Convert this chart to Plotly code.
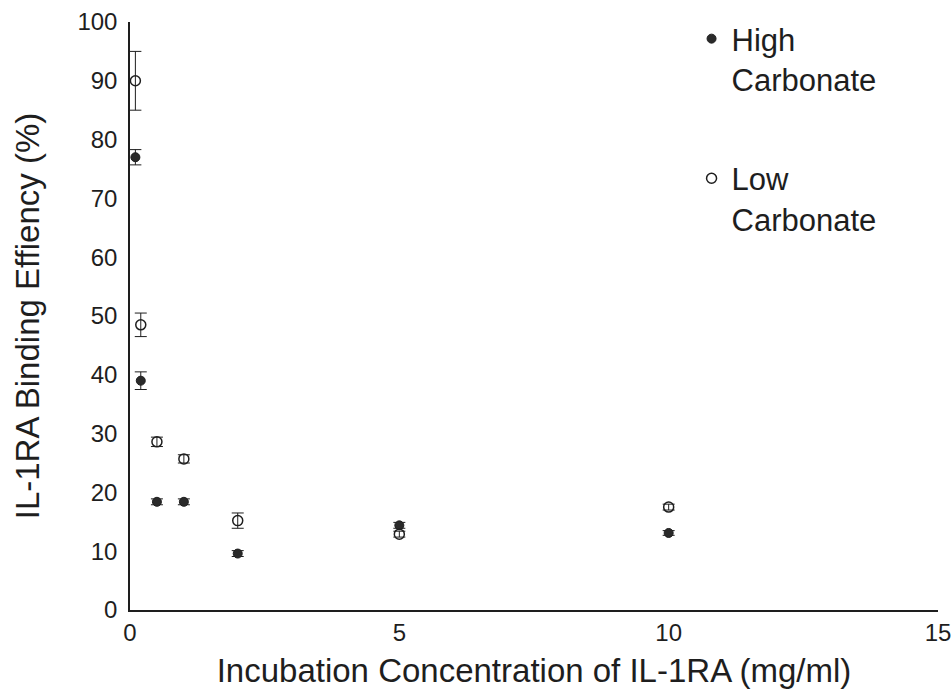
import plotly.graph_objects as go

# Incubation concentration of IL-1RA (mg/ml)
conc = [0.1, 0.2, 0.5, 1, 2, 5, 10]

# Binding efficiency (%) and standard deviation per formulation
high_carbonate = [77.0, 39.0, 18.4, 18.4, 9.6, 14.4, 13.1]
high_carbonate_err = [1.3, 1.5, 0.5, 0.5, 0.5, 0.5, 0.4]
low_carbonate = [90.0, 48.5, 28.6, 25.7, 15.2, 12.9, 17.5]
low_carbonate_err = [5.0, 2.0, 0.8, 0.7, 1.3, 0.5, 0.5]

x_ticks = [0, 5, 10, 15]
y_ticks = [0, 10, 20, 30, 40, 50, 60, 70, 80, 90, 100]

FONT = "Liberation Sans, Arial, Helvetica, sans-serif"
INK = "#1e1e1e"

fig = go.Figure()

fig.add_trace(go.Scatter(
    x=conc, y=high_carbonate, mode="markers",
    name="High<br>Carbonate", legendgroup="high",
    marker=dict(symbol="circle", size=9, color="#2a2a2a",
                line=dict(color=INK, width=1)),
    error_y=dict(type="data", array=high_carbonate_err, visible=True,
                 color=INK, thickness=1, width=6),
))

fig.add_trace(go.Scatter(
    x=conc, y=low_carbonate, mode="markers",
    name="Low<br>Carbonate", legendgroup="low",
    marker=dict(symbol="circle-open", size=10, color=INK,
                line=dict(color=INK, width=1.5)),
    error_y=dict(type="data", array=low_carbonate_err, visible=True,
                 color=INK, thickness=1, width=6),
))

fig.update_layout(
    width=951, height=698,
    margin=dict(l=130, r=13, t=22, b=88),
    paper_bgcolor="white", plot_bgcolor="white",
    font=dict(family=FONT, color=INK, size=24),
    showlegend=True,
    legend=dict(
        x=0.695, y=1.017, xanchor="left", yanchor="top",
        font=dict(family=FONT, size=31, color=INK),
        traceorder="grouped", tracegroupgap=56,
        valign="top", bgcolor="rgba(0,0,0,0)",
    ),
    xaxis=dict(
        range=[0, 15], tickvals=x_ticks, ticktext=[str(t) for t in x_ticks],
        showline=True, linecolor=INK, linewidth=1.5,
        showgrid=False, zeroline=False, ticks="",
        automargin=False, ticklabeloverflow="allow",
        tickfont=dict(family=FONT, size=24, color=INK),
        title=dict(text="Incubation Concentration of IL-1RA (mg/ml)",
                   font=dict(family=FONT, size=33, color=INK), standoff=14),
    ),
    yaxis=dict(
        range=[0, 100], tickvals=y_ticks, ticktext=[str(t) for t in y_ticks],
        showline=True, linecolor=INK, linewidth=1.5,
        showgrid=False, zeroline=False, ticks="",
        automargin=False, ticklabeloverflow="allow",
        ticklabelstandoff=6,
        tickfont=dict(family=FONT, size=24, color=INK),
        title=dict(text="IL-1RA Binding Effiency (%)",
                   font=dict(family=FONT, size=33, color=INK), standoff=28),
    ),
)

fig.write_html("out.html")
